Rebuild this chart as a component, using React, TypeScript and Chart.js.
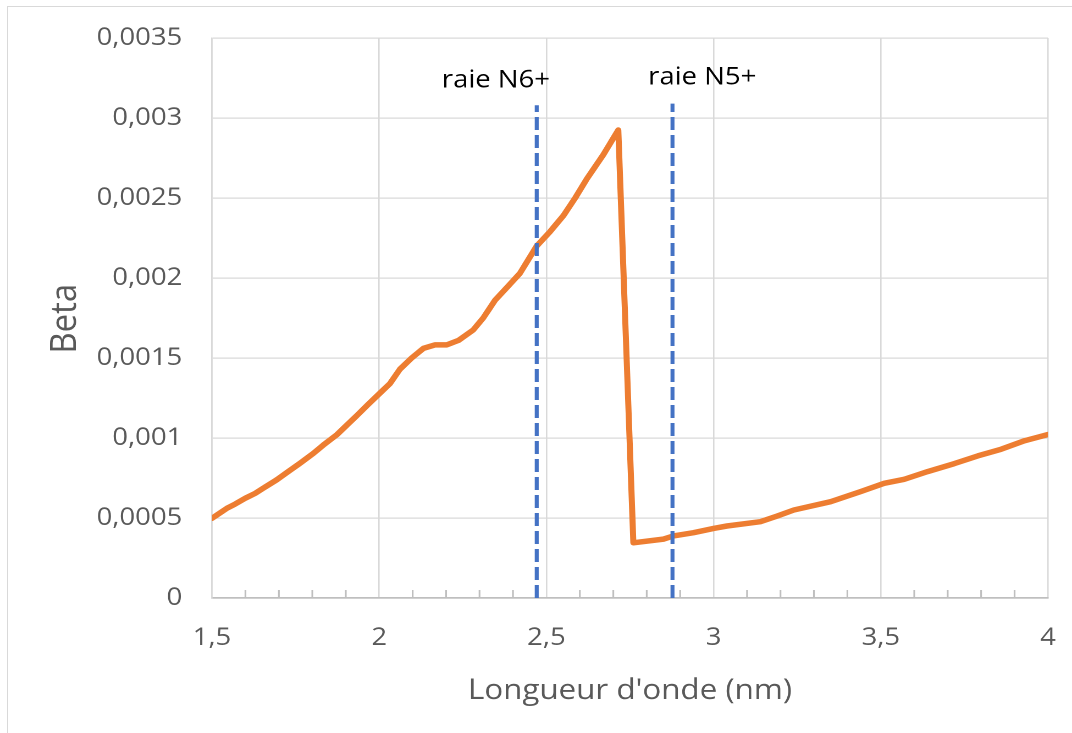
import React, { useEffect, useRef } from "react";
import { Chart, registerables } from "chart.js";

Chart.register(...registerables);

// ---- data ----
const wavelength = [
  1.5, 1.544, 1.569, 1.599, 1.629, 1.653, 1.693, 1.728, 1.763, 1.803, 1.833, 1.873, 1.903, 1.933,
  1.967, 2.002, 2.032, 2.062, 2.097, 2.132, 2.167, 2.202, 2.237, 2.281, 2.311, 2.346, 2.386, 2.421,
  2.471, 2.511, 2.551, 2.586, 2.621, 2.67, 2.715, 2.76, 2.85, 2.88, 2.94, 3.0, 3.04, 3.14, 3.19,
  3.24, 3.35, 3.44, 3.51, 3.57, 3.64, 3.72, 3.79, 3.86, 3.93, 4.0,
];
const beta = [
  0.000498, 0.00056, 0.000587, 0.000623, 0.000654, 0.000686, 0.000738, 0.00079, 0.000842, 0.000904,
  0.000956, 0.00102, 0.00108, 0.00114, 0.00121, 0.00128, 0.00134, 0.00143, 0.0015, 0.00156,
  0.001582, 0.001582, 0.00161, 0.001675, 0.00175, 0.00186, 0.00195, 0.00203, 0.0022, 0.00229,
  0.00239, 0.0025, 0.00262, 0.00277, 0.002925, 0.000345, 0.000368, 0.000388, 0.000408, 0.000435,
  0.00045, 0.000477, 0.000512, 0.00055, 0.000602, 0.000665, 0.000717, 0.000742, 0.00079, 0.00084,
  0.000888, 0.00093, 0.000983, 0.001022,
];

const lineNames = ["raie N6+", "raie N5+"];
const lineX = [2.471, 2.877];
const lineTop = [0.00308, 0.00309];
const labelX = [2.349, 2.966];
const labelY = [0.00319, 0.00321];

const xMin = 1.5;
const xMax = 4;
const xStep = 0.5;
const xMinorStep = 0.1;
const yMin = 0;
const yMax = 0.0035;
const yStep = 0.0005;

const xTitle = "Longueur d'onde (nm)";
const yTitle = "Beta";

// ---- layout constants (unscaled canvas space) ----
const CANVAS_W = 975;
const CANVAS_H = 733;
const SX = 1072 / CANVAS_W;
const FONT = "'Open Sans', 'Noto Sans', sans-serif";
const GRAY = "#595959";

const fmt = (v: number) => String(Math.round(v * 1e6) / 1e6).replace(".", ",");

const decorPlugin = {
  id: "decor",
  afterDraw(chart: any) {
    const ctx = chart.ctx;
    const xs = chart.scales.x;
    const ys = chart.scales.y;
    const area = chart.chartArea;
    ctx.save();
    // minor ticks (inward)
    ctx.strokeStyle = "#bfbfbf";
    ctx.lineWidth = 1.6;
    for (let v = xMin + xMinorStep; v < xMax - 1e-9; v += xMinorStep) {
      const r = Math.round(v * 10) / 10;
      if (Math.abs(r / xStep - Math.round(r / xStep)) < 1e-6) continue;
      const px = xs.getPixelForValue(r);
      ctx.beginPath();
      ctx.moveTo(px, area.bottom);
      ctx.lineTo(px, area.bottom - 8);
      ctx.stroke();
    }
    // line labels
    ctx.fillStyle = "#000000";
    ctx.font = `25px ${FONT}`;
    ctx.textAlign = "center";
    ctx.textBaseline = "alphabetic";
    lineNames.forEach((name, i) => {
      ctx.fillText(name, xs.getPixelForValue(labelX[i]), ys.getPixelForValue(labelY[i]));
    });
    // x title
    ctx.fillStyle = GRAY;
    ctx.font = `28.5px ${FONT}`;
    ctx.fillText(xTitle, (area.left + area.right) / 2, 699);
    // y title
    ctx.font = `33px ${FONT}`;
    ctx.translate(69.1, (area.top + area.bottom) / 2 + 0.7);
    ctx.rotate(-Math.PI / 2);
    ctx.fillText(yTitle, 0, 0);
    ctx.restore();
  },
};

export default function App() {
  const ref = useRef<HTMLCanvasElement | null>(null);

  useEffect(() => {
    if (!ref.current) return;
    const mainData = wavelength.map((x, i) => ({ x, y: beta[i] }));
    const vlines = lineX.map((x, i) => ({
      label: lineNames[i],
      data: [
        { x, y: 0 },
        { x, y: lineTop[i] },
      ],
      borderColor: "#4472C4",
      borderWidth: 3.6,
      borderDash: [13, 5],
      pointRadius: 0,
      order: 0,
    }));
    const chart = new Chart(ref.current, {
      type: "line",
      data: {
        datasets: [
          ...vlines,
          {
            label: "Beta",
            data: mainData,
            borderColor: "#ED7D31",
            borderWidth: 5.5,
            pointRadius: 0,
            tension: 0,
            borderJoinStyle: "round",
            borderCapStyle: "round",
            order: 1,
          },
        ] as any,
      },
      options: {
        animation: false,
        responsive: false,
        maintainAspectRatio: false,
        devicePixelRatio: 2,
        layout: { padding: { top: 38, right: CANVAS_W - 1048 / SX, left: 0, bottom: 0 } },
        plugins: { legend: { display: false }, tooltip: { enabled: false } },
        scales: {
          x: {
            type: "linear",
            min: xMin,
            max: xMax,
            afterFit: (s: any) => {
              s.height = CANVAS_H - 598;
            },
            ticks: {
              stepSize: xStep,
              callback: (v: any) => fmt(Number(v)),
              color: GRAY,
              font: { family: FONT, size: 25 },
              padding: 0,
              maxRotation: 0,
              autoSkip: false,
            },
            grid: {
              color: "#d9d9d9",
              lineWidth: 1.3,
              drawTicks: true,
              tickLength: 25,
              tickColor: "rgba(0,0,0,0)",
            },
            border: { color: "#bfbfbf", width: 1.6 },
          },
          y: {
            type: "linear",
            min: yMin,
            max: yMax,
            afterFit: (s: any) => {
              s.width = 212 / SX;
            },
            ticks: {
              stepSize: yStep,
              callback: (v: any) => fmt(Number(v)),
              color: GRAY,
              font: { family: FONT, size: 25 },
              padding: 0,
            },
            grid: {
              color: "#d9d9d9",
              lineWidth: 1.3,
              drawTicks: true,
              tickLength: 27,
              tickColor: "rgba(0,0,0,0)",
            },
            border: { color: "#d9d9d9", width: 1.3 },
          },
        },
      } as any,
      plugins: [decorPlugin],
    });
    return () => chart.destroy();
  }, []);

  return (
    <div
      style={{
        position: "absolute",
        left: 0,
        top: 0,
        width: 1072,
        height: 733,
        overflow: "hidden",
        background: "#ffffff",
      }}
    >
      <div
        style={{
          position: "absolute",
          left: 7,
          top: 6,
          width: 1200,
          height: 900,
          borderLeft: "1.5px solid #d9d9d9",
          borderTop: "1.5px solid #d9d9d9",
        }}
      />
      <div
        style={{
          position: "absolute",
          left: 0,
          top: 0,
          width: CANVAS_W,
          height: CANVAS_H,
          transform: `scaleX(${SX})`,
          transformOrigin: "0 0",
        }}
      >
        <canvas
          ref={ref}
          width={CANVAS_W}
          height={CANVAS_H}
          style={{ display: "block", width: CANVAS_W, height: CANVAS_H }}
        />
      </div>
    </div>
  );
}
